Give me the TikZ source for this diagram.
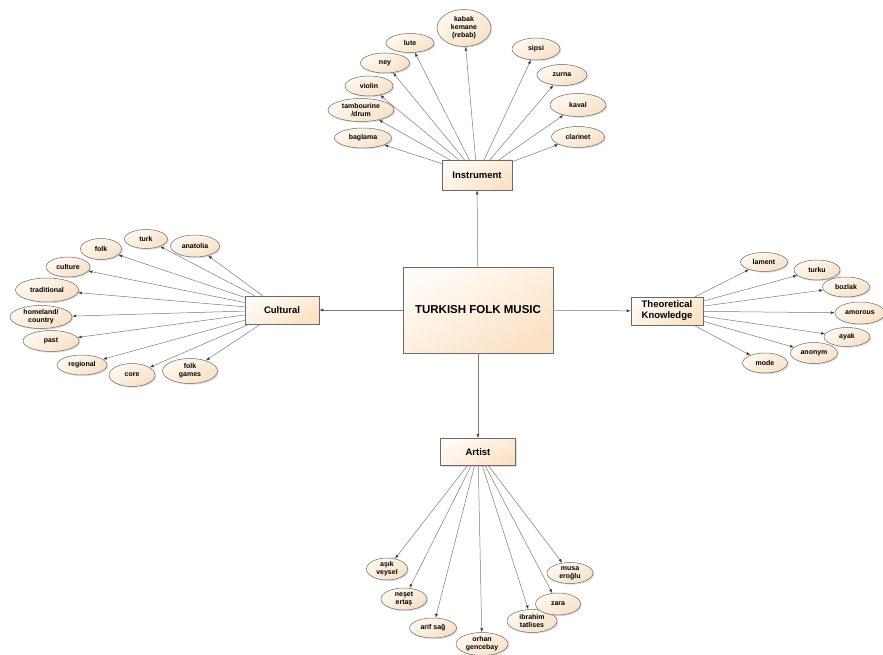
\documentclass[tikz,border=0pt]{standalone}
\usepackage{fontspec}
\setmainfont{Liberation Sans}
\usetikzlibrary{arrows.meta,shadows,shapes.geometric}
\definecolor{boxA}{HTML}{FFFBF6}
\definecolor{boxB}{HTML}{FBE2C5}
\definecolor{ellA}{HTML}{FFF8F0}
\definecolor{ellB}{HTML}{F7E1C6}
\definecolor{lineC}{HTML}{6A6A6A}
\definecolor{edgeC}{HTML}{7A7A7A}
\tikzset{
  shad/.style={drop shadow={shadow xshift=1.2pt,shadow yshift=-1.2pt,opacity=0.22,fill=black!60}},
  catbox/.style={rectangle, draw=lineC, line width=0.6pt, top color=boxA, bottom color=boxB,
     shading angle=30, shad, font=\bfseries\fontsize{9.5}{11}\selectfont, align=center, inner sep=1pt},
  ell/.style={ellipse, draw=lineC, line width=0.5pt, top color=ellA, bottom color=ellB,
     shading angle=30, shad, font=\bfseries\fontsize{7}{8}\selectfont, align=center, inner sep=0pt},
  conn/.style={draw=edgeC, line width=0.5pt, -{Latex[length=4pt,width=3pt,color=black!75]}}
}
\begin{document}
\begin{tikzpicture}[x=1pt,y=-1pt]
\useasboundingbox (0,0) rectangle (883,655);
% central
\node[catbox, minimum width=150, minimum height=86, font=\bfseries\fontsize{11.5}{13}\selectfont] (main) at (478,310) {TURKISH FOLK MUSIC};
\node[catbox, minimum width=70, minimum height=30] (inst) at (477,175) {Instrument};
\node[catbox, minimum width=74, minimum height=28] (cult) at (282,310) {Cultural};
\node[catbox, minimum width=72, minimum height=28] (theo) at (667,311) {Theoretical\\Knowledge};
\node[catbox, minimum width=75, minimum height=27] (art) at (478,452) {Artist};
\draw[conn] (main) -- (inst);
\draw[conn] (main) -- (cult);
\draw[conn] (main) -- (theo);
\draw[conn] (main) -- (art);
% instrument
\node[ell, minimum width=54, minimum height=37] (i1) at (464,28) {kabak\\kemane\\(rebab)};
\node[ell, minimum width=48, minimum height=19] (i2) at (410,43) {lute};
\node[ell, minimum width=49, minimum height=20] (i3) at (385,63) {ney};
\node[ell, minimum width=48, minimum height=20] (i4) at (369,86) {violin};
\node[ell, minimum width=66, minimum height=23] (i5) at (361,110) {tambourine\\/drum};
\node[ell, minimum width=57, minimum height=20] (i6) at (363,138) {baglama};
\node[ell, minimum width=48, minimum height=22] (i7) at (536,49) {sipsi};
\node[ell, minimum width=50, minimum height=21] (i8) at (562,75) {zurna};
\node[ell, minimum width=56, minimum height=23] (i9) at (578,105) {kaval};
\node[ell, minimum width=53, minimum height=21] (i10) at (578,137) {clarinet};
\foreach \n in {i1,i2,i3,i4,i5,i6,i7,i8,i9,i10} \draw[conn] (inst) -- (\n);
% cultural
\node[ell, minimum width=49, minimum height=22] (c1) at (195,246) {anatolia};
\node[ell, minimum width=43, minimum height=19] (c2) at (146,239) {turk};
\node[ell, minimum width=41, minimum height=21] (c3) at (101,249) {folk};
\node[ell, minimum width=44, minimum height=20] (c4) at (68,267) {culture};
\node[ell, minimum width=63, minimum height=24] (c5) at (47,290) {traditional};
\node[ell, minimum width=62, minimum height=23] (c6) at (41,317) {homeland/\\country};
\node[ell, minimum width=56, minimum height=21] (c7) at (51,341) {past};
\node[ell, minimum width=50, minimum height=20] (c8) at (82,365) {regional};
\node[ell, minimum width=46, minimum height=23] (c9) at (132,375) {core};
\node[ell, minimum width=55, minimum height=25] (c10) at (190,371) {folk\\games};
\foreach \n in {c1,c2,c3,c4,c5,c6,c7,c8,c9,c10} \draw[conn] (cult) -- (\n);
% theoretical
\node[ell, minimum width=47, minimum height=19] (t1) at (764,262) {lament};
\node[ell, minimum width=46, minimum height=20] (t2) at (817,270) {turku};
\node[ell, minimum width=47, minimum height=20] (t3) at (846,287) {bozlak};
\node[ell, minimum width=50, minimum height=22] (t4) at (860,313) {amorous};
\node[ell, minimum width=46, minimum height=19] (t5) at (847,337) {ayak};
\node[ell, minimum width=47, minimum height=21] (t6) at (814,353) {anonym};
\node[ell, minimum width=45, minimum height=20] (t7) at (765,363) {mode};
\foreach \n in {t1,t2,t3,t4,t5,t6,t7} \draw[conn] (theo) -- (\n);
% artist
\node[ell, minimum width=41, minimum height=22] (a1) at (387,569) {aşık\\veysel};
\node[ell, minimum width=46, minimum height=22] (a2) at (404,599) {neşet\\ertaş};
\node[ell, minimum width=47, minimum height=20] (a3) at (433,628) {arif sağ};
\node[ell, minimum width=52, minimum height=23] (a4) at (482,644) {orhan\\gencebay};
\node[ell, minimum width=50, minimum height=23] (a5) at (532,621) {ibrahim\\tatlises};
\node[ell, minimum width=45, minimum height=22] (a6) at (558,604) {zara};
\node[ell, minimum width=46, minimum height=21] (a7) at (570,573) {musa\\eroğlu};
\foreach \n in {a1,a2,a3,a4,a5,a6,a7} \draw[conn] (art) -- (\n);
\end{tikzpicture}
\end{document}
